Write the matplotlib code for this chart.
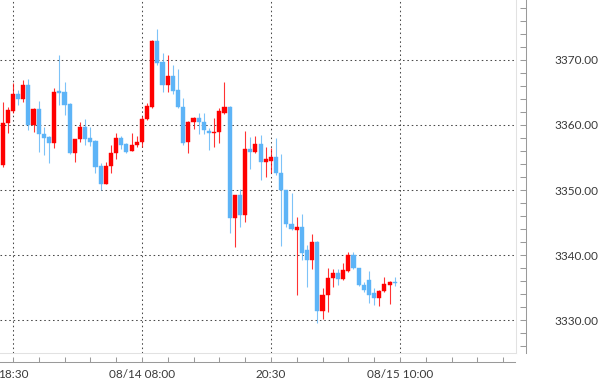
import matplotlib
matplotlib.use("Agg")
import matplotlib.pyplot as plt
from matplotlib.ticker import MultipleLocator, FixedLocator
import numpy as np

plt.rcParams['font.family'] = ['Lato', 'DejaVu Sans']

# 30-minute candles (index = slot on the time axis)
opens = [3353.85, 3360.26, 3362.15, 3364.77, 3363.95, 3366.15, 3360.00, 3362.42, 3358.57, 3358.20,
         3357.18, 3365.23, 3365.03, 3363.18, 3355.74, 3357.80, 3359.65, 3357.95, 3357.58, 3353.69,
         3350.92, 3353.69, 3355.65, 3357.95, 3357.08, 3356.05, 3356.92, 3357.43, 3360.88, 3362.72,
         3372.97, 3369.74, 3366.08, 3367.54, 3365.38, 3362.72, 3357.38, 3360.42, 3361.08, 3360.42,
         3359.12, 3358.72, 3358.85, 3361.89, 3362.82, 3345.74, 3349.23, 3346.15, 3356.26, 3355.89,
         3357.08, 3354.35, 3354.51, 3355.03, 3352.57, 3350.00, 3344.77, 3343.85, 3344.26, 3340.77,
         3339.23, 3342.05, 3331.43, 3333.85, 3336.42, 3337.28, 3336.26, 3337.54, 3340.00, 3337.95,
         3335.38, 3336.15, 3334.11, 3333.34, 3334.51, 3335.43, 3335.85]
closes = [3360.26, 3362.31, 3364.77, 3364.00, 3366.15, 3360.00, 3362.42, 3358.57, 3358.05, 3357.18,
          3365.12, 3364.88, 3363.08, 3355.65, 3357.80, 3359.65, 3357.85, 3357.43, 3353.58, 3350.92,
          3353.69, 3355.74, 3357.95, 3356.92, 3355.89, 3356.92, 3357.43, 3360.88, 3362.92, 3372.97,
          3369.58, 3366.15, 3367.54, 3365.28, 3362.72, 3357.28, 3360.46, 3361.08, 3360.46, 3359.15,
          3358.77, 3358.97, 3362.18, 3362.82, 3345.74, 3349.23, 3346.15, 3356.26, 3355.89, 3357.08,
          3354.35, 3354.72, 3355.03, 3352.57, 3350.00, 3344.77, 3344.00, 3344.26, 3340.35, 3339.23,
          3342.05, 3331.43, 3333.85, 3336.42, 3337.28, 3336.26, 3337.69, 3340.00, 3337.95, 3335.38,
          3334.62, 3333.85, 3333.34, 3334.51, 3335.54, 3335.85, 3335.69]
highs = [3363.58, 3362.80, 3366.51, 3365.38, 3366.92, 3367.03, 3362.60, 3363.74, 3359.65, 3358.31,
         3365.74, 3370.77, 3366.66, 3363.30, 3357.90, 3360.38, 3360.88, 3359.65, 3357.69, 3354.11,
         3354.35, 3356.92, 3358.82, 3358.31, 3357.20, 3358.82, 3358.31, 3361.38, 3363.43, 3373.10,
         3374.72, 3371.03, 3370.77, 3369.23, 3368.57, 3364.11, 3360.55, 3361.28, 3361.80, 3361.89,
         3359.60, 3361.03, 3362.54, 3366.66, 3362.90, 3349.30, 3350.11, 3359.12, 3358.20, 3358.31,
         3358.46, 3356.57, 3356.42, 3357.95, 3355.54, 3350.05, 3349.49, 3345.89, 3346.31, 3341.54,
         3343.23, 3342.10, 3334.88, 3337.95, 3337.80, 3337.80, 3338.82, 3340.51, 3340.51, 3338.05,
         3335.89, 3337.58, 3334.88, 3334.60, 3336.57, 3336.05, 3336.66]
lows = [3353.60, 3358.80, 3361.80, 3363.08, 3363.58, 3359.23, 3358.97, 3355.89, 3355.38, 3354.20,
        3356.42, 3363.08, 3361.54, 3355.50, 3354.35, 3357.34, 3356.92, 3356.77, 3352.66, 3350.00,
        3350.85, 3352.66, 3354.72, 3356.26, 3355.74, 3355.95, 3356.57, 3356.57, 3360.77, 3362.60,
        3369.23, 3365.12, 3365.12, 3364.77, 3362.57, 3356.92, 3355.65, 3359.34, 3358.62, 3358.62,
        3356.15, 3356.60, 3357.23, 3361.62, 3343.43, 3341.28, 3344.35, 3345.12, 3353.28, 3355.65,
        3351.54, 3351.95, 3352.57, 3352.31, 3341.38, 3344.35, 3343.85, 3333.85, 3339.23, 3335.12,
        3337.80, 3329.58, 3330.11, 3331.28, 3335.03, 3335.38, 3336.15, 3337.43, 3337.80, 3335.23,
        3334.35, 3332.57, 3332.31, 3332.15, 3334.35, 3332.46, 3335.23]

time_tick_slots = [2, 27, 52, 77]
time_tick_labels = ["18:30", "08/14 08:00", "20:30", "08/15 10:00"]
price_grid = [3330, 3340, 3350, 3360, 3370]

n_slots = 100
y_min, y_max = 3325.0, 3379.2

UP = '#ff0000'
DOWN = '#5db4f7'
TEXT = '#3a3a3a'
AXIS = '#9a9a9a'

fig = plt.figure(figsize=(6.0, 3.81), dpi=100)
W, H = 600.0, 381.0

# main plot area
ax = fig.add_axes([0, 1 - 352.7 / H, 516 / W, 352.7 / H])
ax.set_xlim(-0.5, n_slots - 0.5)
ax.set_ylim(y_min, y_max)
for s in ['top', 'left']:
    ax.spines[s].set_visible(False)
for s in ['right', 'bottom']:
    ax.spines[s].set_color('#e2e2e2')
    ax.spines[s].set_linewidth(0.75)
ax.set_xticks(time_tick_slots)
ax.set_yticks(price_grid)
ax.tick_params(length=0, labelbottom=False, labelleft=False)
ax.grid(True, color='#4a4a4a', linestyle=(0, (1.5, 2.7)), linewidth=0.75)
ax.set_axisbelow(True)

idx = np.arange(len(opens))
o = np.array(opens); c = np.array(closes)
h = np.array(highs); l = np.array(lows)
up = c >= o
colors = np.where(up, UP, DOWN)

ax.vlines(idx, l, h, colors=colors, linewidth=0.8, alpha=0.8, zorder=3)
body_bottom = np.minimum(o, c)
body_h = np.maximum(np.abs(c - o), 0.18)
ax.bar(idx, body_h, bottom=body_bottom, width=0.8, color=colors,
       edgecolor=colors, linewidth=0.3, zorder=4)

# price axis (separate, to the right of the plot area)
axy = fig.add_axes([525.6 / W, 1 - 352.7 / H, 20 / W, 352.7 / H])
axy.set_ylim(y_min, y_max)
axy.set_xticks([])
for s in ['top', 'right', 'bottom']:
    axy.spines[s].set_visible(False)
axy.spines['left'].set_color(AXIS)
axy.spines['left'].set_linewidth(0.75)
axy.patch.set_alpha(0)
axy.yaxis.set_major_locator(FixedLocator(price_grid))
axy.yaxis.set_minor_locator(MultipleLocator(2))
axy.yaxis.set_major_formatter(lambda v, p: f"{v:.2f}")
axy.tick_params(axis='y', which='both', left=True, right=False, direction='out',
                length=4.3, width=0.75, color=AXIS,
                labelleft=False, labelright=True, labelsize=8.5,
                labelcolor=TEXT, pad=2)

# time axis
axx = fig.add_axes([0, 1 - 361.7 / H, 515 / W, 0.0001])
axx.set_xlim(-0.5, (n_slots - 0.5) * 515 / 516 - 0.5 * (1 - 515 / 516))
axx.set_yticks([])
for s in ['top', 'left', 'right']:
    axx.spines[s].set_visible(False)
axx.spines['bottom'].set_color(AXIS)
axx.spines['bottom'].set_linewidth(0.75)
axx.patch.set_alpha(0)
axx.xaxis.set_major_locator(FixedLocator(time_tick_slots))
axx.set_xticklabels(time_tick_labels)
axx.xaxis.set_minor_locator(MultipleLocator(5, offset=2))
axx.tick_params(axis='x', which='both', direction='in', length=3.6, width=0.75,
                color=AXIS, labelsize=8.5, labelcolor=TEXT, pad=5)

fig.savefig('out.png', dpi=100, facecolor='white')
